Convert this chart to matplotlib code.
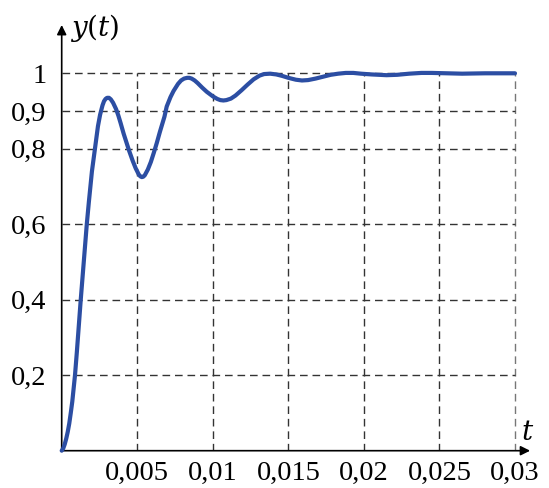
import matplotlib
matplotlib.use("Agg")
import matplotlib.pyplot as plt

# ---- data ----
t_vals = [0.0, 0.0001, 0.0002, 0.0003, 0.0004, 0.0005, 0.0006, 0.0007, 0.00088, 0.0010,
          0.00113, 0.00126, 0.0014, 0.00153, 0.00166, 0.0018, 0.0020, 0.0022, 0.0024,
          0.00254, 0.0027, 0.0028, 0.0029, 0.0030, 0.00313, 0.00325, 0.0034, 0.0036,
          0.00375, 0.0039, 0.0041, 0.0043, 0.00446, 0.0047, 0.0049, 0.0051, 0.0052,
          0.0053, 0.0054, 0.0055, 0.0057, 0.0059, 0.0061, 0.00629, 0.0065, 0.0068,
          0.00695, 0.0072, 0.0074, 0.0077, 0.0079, 0.0081, 0.0083, 0.00845, 0.0086,
          0.0088, 0.0090, 0.0093, 0.0096, 0.0100, 0.0103, 0.0105, 0.0107, 0.0109,
          0.0112, 0.0115, 0.0119, 0.0123, 0.0127, 0.0131, 0.0134, 0.0138, 0.0142,
          0.0146, 0.0150, 0.0155, 0.0159, 0.0163, 0.0168, 0.0173, 0.0178, 0.0183,
          0.0188, 0.0193, 0.0198, 0.0205, 0.0215, 0.0222, 0.0230, 0.0238, 0.0245,
          0.0255, 0.0265, 0.0280, 0.0300]
y_vals = [0.0, 0.006, 0.017, 0.032, 0.05, 0.072, 0.10, 0.13, 0.20, 0.26,
          0.33, 0.40, 0.47, 0.535, 0.60, 0.66, 0.74, 0.80, 0.86,
          0.89, 0.915, 0.926, 0.932, 0.935, 0.935, 0.931, 0.922, 0.905,
          0.888, 0.868, 0.84, 0.815, 0.795, 0.768, 0.748, 0.732, 0.727,
          0.725, 0.726, 0.73, 0.745, 0.765, 0.79, 0.815, 0.845, 0.885,
          0.912, 0.937, 0.953, 0.972, 0.981, 0.986, 0.988, 0.988, 0.986,
          0.981, 0.974, 0.962, 0.951, 0.939, 0.932, 0.929, 0.928, 0.929,
          0.933, 0.941, 0.955, 0.970, 0.984, 0.994, 0.998, 0.999, 0.997,
          0.993, 0.988, 0.983, 0.981, 0.982, 0.986, 0.991, 0.996, 0.999,
          1.001, 1.001, 0.999, 0.997, 0.995, 0.996, 0.999, 1.001, 1.001,
          1.0, 0.999, 1.0, 1.0]

x_ticks = [0.005, 0.01, 0.015, 0.02, 0.025, 0.03]
x_tick_labels = ["0,005", "0,01", "0,015", "0,02", "0,025", "0,03"]
y_ticks = [0.2, 0.4, 0.6, 0.8, 0.9, 1.0]
y_tick_labels = ["0,2", "0,4", "0,6", "0,8", "0,9", "1"]

# ---- figure ----
W, H = 549, 488
fig = plt.figure(figsize=(W / 100, H / 100), dpi=100)
plt.rcParams['font.family'] = ['Liberation Serif', 'DejaVu Serif']

x0_px, x1_px = 61.7, 515.0     # t = 0 and t = 0.03
y0_px, y1_px = 450.7, 73.3     # y = 0 and y = 1
right_px, top_px = 540.0, 12.0

xmax = 0.03 * (right_px - x0_px) / (x1_px - x0_px)
ymax = (y0_px - top_px) / (y0_px - y1_px)
ax = fig.add_axes([x0_px / W, (H - y0_px) / H, (right_px - x0_px) / W, (y0_px - top_px) / H])
ax.set_xlim(0, xmax)
ax.set_ylim(0, ymax)
for s in ax.spines.values():
    s.set_visible(False)

# dashed grid restricted to the data box
dash = (0, (5.5, 3.5))
for xv in x_ticks:
    ax.plot([xv, xv], [0, 1.0], color='#333333' if xv < 0.03 else '#777777',
            lw=1.0, linestyle=dash, zorder=1)
for yv in y_ticks:
    ax.plot([0, 0.03], [yv, yv], color='#333333', lw=1.0, linestyle=dash, zorder=1)

# axes with arrows
ax.annotate('', xy=(0.031, 0), xytext=(0, 0),
            arrowprops=dict(arrowstyle='-|>', color='black', lw=1.2,
                            mutation_scale=14, shrinkA=0, shrinkB=0), annotation_clip=False)
ax.annotate('', xy=(0, 1.128), xytext=(0, 0),
            arrowprops=dict(arrowstyle='-|>', color='black', lw=1.2,
                            mutation_scale=14, shrinkA=0, shrinkB=0), annotation_clip=False)

# curve
ax.plot(t_vals, y_vals, color='#2c4ea3', lw=3.0, solid_capstyle='round',
        solid_joinstyle='round', zorder=3, clip_on=False)

# ticks
ax.set_xticks(x_ticks)
ax.set_xticklabels(x_tick_labels)
ax.set_yticks(y_ticks)
ax.set_yticklabels(y_tick_labels)
ax.tick_params(axis='both', length=0, labelsize=20.5)
ax.tick_params(axis='x', pad=7)
ax.tick_params(axis='y', pad=11)

# axis labels
fig.text(70 / W, 1 - 28 / H, r'$y(t)$', fontsize=20, va='center', ha='left',
         math_fontfamily='dejavuserif')
fig.text(528 / W, 1 - 434 / H, r'$t$', fontsize=20, va='center', ha='center',
         math_fontfamily='dejavuserif')

fig.savefig('out.png', dpi=100)
